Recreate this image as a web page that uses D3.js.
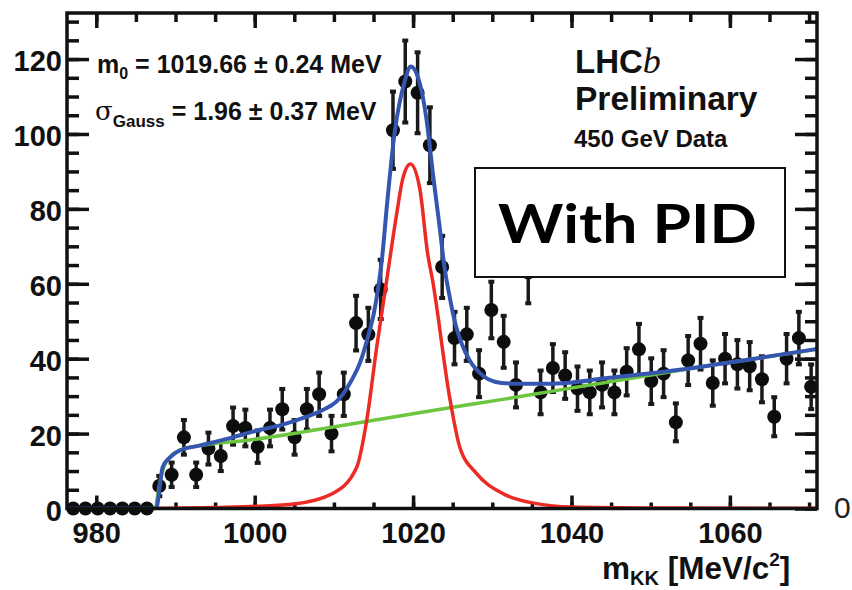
<!DOCTYPE html>
<html>
<head>
<meta charset="utf-8">
<script src="https://cdn.jsdelivr.net/npm/d3@7/dist/d3.min.js"></script>
<style>
  body { margin: 0; background: #fff; }
  svg { display: block; }
  .tick text { font-family: "Liberation Sans", Arial, sans-serif; font-weight: bold; }
</style>
</head>
<body>
<div id="chart"></div>
<script>
// bin centres (MeV/c^2) and entries
var massBins = [977.08, 978.63, 980.18, 981.74, 983.29, 984.85, 986.40, 987.95, 989.51, 991.06,
  992.61, 994.16, 995.72, 997.27, 998.82, 1000.38, 1001.93, 1003.48, 1005.04, 1006.59,
  1008.14, 1009.70, 1011.25, 1012.80, 1014.35, 1015.91, 1017.46, 1019.01, 1020.57, 1022.12,
  1023.67, 1025.23, 1026.78, 1028.33, 1029.88, 1031.44, 1032.99, 1034.54, 1036.10, 1037.65,
  1039.20, 1040.76, 1042.31, 1043.86, 1045.42, 1046.97, 1048.52, 1050.07, 1051.63, 1053.18,
  1054.73, 1056.29, 1057.84, 1059.39, 1060.95, 1062.50, 1064.05, 1065.60, 1067.16, 1068.71,
  1070.26];
var counts = [0, 0, 0, 0, 0, 0, 0, 6, 9, 19,
  9, 16, 14, 22, 21.5, 16.5, 21.5, 26.5, 19, 26.5,
  30.5, 20, 30.5, 49.5, 46.5, 58.5, 101, 114, 111, 97,
  64.5, 45.5, 46.5, 36, 53, 44.5, 33, 63, 31, 37.5,
  35.5, 32, 31, 33, 31, 36.5, 42.5, 34, 36, 23,
  39.5, 44, 33.5, 40, 38.5, 38, 34.5, 24.5, 40, 45.5,
  32.5];

// fit curves
var totalMass = [976.3, 987.37, 987.63, 988.01, 988.38, 989.27, 990.53, 993.06, 997.22, 1000.25,
  1003.54, 1006.57, 1008.59, 1010.35, 1011.24, 1012.25, 1013.26, 1014.27, 1015.03, 1015.53,
  1016.04, 1016.79, 1017.68, 1018.94, 1019.7, 1020.83, 1021.72, 1022.47, 1023.36, 1023.99,
  1024.62, 1025.25, 1026.14, 1027.15, 1028.79, 1030.93, 1033.46, 1036.87, 1039.77, 1043.94,
  1048.61, 1056.19, 1062.5, 1071];
var totalFit = [0, 0, 0.3, 6, 11, 13.6, 15.5, 16.8, 19, 20.8,
  22.4, 24.5, 26.3, 28.6, 30.8, 34.3, 38.7, 45.6, 52, 58,
  66, 83, 100.5, 114, 118, 113.6, 103.5, 90, 75, 64,
  56.5, 50, 44, 39.5, 35.5, 33.6, 33.3, 33.3, 33.6, 34.7,
  35.8, 37.8, 39.8, 42.6];
var signalMass = [987.37, 995, 1000.25, 1005, 1009.85, 1012.88, 1014.14, 1015.4, 1016.67, 1017.93,
  1018.69, 1019.66, 1020.83, 1021.84, 1022.47, 1024.62, 1025.88, 1028.03, 1031.31, 1035.61,
  1040.03, 1050, 1071];
var signalFit = [0, 0.3, 0.6, 1.2, 4, 11, 23.5, 43, 61, 78.7,
  88, 92, 85.6, 68, 60.8, 29.6, 16.5, 9.3, 4, 1.3,
  0.4, 0.15, 0.05];
var bkgMass = [987.5, 987.95, 988.5, 989.4, 990.53, 993.06, 999.37, 1005.68, 1012.0, 1018.31,
  1024.62, 1030.93, 1037.25, 1043.56, 1049.87, 1056.19, 1062.5, 1071];
var bkgFit = [0, 6, 11, 14, 15.6, 16.8, 18.3, 20.3, 22.5, 24.7,
  26.9, 29, 31.2, 33.4, 35.6, 37.8, 39.8, 42.5];

var xTicks = [980, 1000, 1020, 1040, 1060];
var yTicks = [0, 20, 40, 60, 80, 100, 120];

var margin = {top: 13, right: 35, bottom: 81.5, left: 67};
var width = 852 - margin.left - margin.right;
var height = 590 - margin.top - margin.bottom;

var x = d3.scaleLinear().domain([976.3, 1071]).range([0, width]);
var y = d3.scaleLinear().domain([0, 132.3]).range([height, 0]);

var root = d3.select('#chart').append('svg')
    .attr('width', 852)
    .attr('height', 590);
root.append('rect').attr('width', 852).attr('height', 590).attr('fill', '#fff');

var svg = root.append('g')
    .attr('transform', 'translate(' + margin.left + ',' + margin.top + ')');

svg.append('clipPath').attr('id', 'plot-clip')
  .append('rect').attr('width', width).attr('height', height);

var xMinor = d3.range(980, 1071, 5);
var yMinor = d3.range(0, 132, 5);

function tickStyle(g) {
  g.select('.domain').remove();
  g.selectAll('.tick line').attr('stroke', '#111').attr('stroke-width', 3.5);
}

// minor ticks, all four sides
svg.append('g').attr('transform', 'translate(0,' + height + ')')
  .call(d3.axisBottom(x).tickValues(xMinor).tickSize(-6).tickFormat(''))
  .call(tickStyle);
svg.append('g')
  .call(d3.axisTop(x).tickValues(xMinor).tickSize(-9).tickFormat(''))
  .call(tickStyle);
svg.append('g')
  .call(d3.axisLeft(y).tickValues(yMinor).tickSize(-12).tickFormat(''))
  .call(tickStyle);
svg.append('g').attr('transform', 'translate(' + width + ',0)')
  .call(d3.axisRight(y).tickValues(yMinor).tickSize(-12).tickFormat(''))
  .call(tickStyle);

// major ticks
svg.append('g')
  .attr('transform', 'translate(0,' + height + ')')
  .call(d3.axisBottom(x).tickValues(xTicks).tickSize(-13).tickPadding(14).tickFormat(d3.format('d')))
  .call(tickStyle)
  .selectAll('text')
  .attr('fill', '#111')
  .style('font-size', '29px');
svg.append('g')
  .call(d3.axisTop(x).tickValues(xTicks).tickSize(-15).tickFormat(''))
  .call(tickStyle);
svg.append('g')
  .call(d3.axisLeft(y).tickValues(yTicks).tickSize(-22).tickPadding(5).tickFormat(d3.format('d')))
  .call(tickStyle)
  .selectAll('text')
  .attr('fill', '#111')
  .attr('dy', '0.4em')
  .style('font-size', '29px');
svg.append('g').attr('transform', 'translate(' + width + ',0)')
  .call(d3.axisRight(y).tickValues(yTicks).tickSize(-22).tickFormat(''))
  .call(tickStyle);

// data points with error bars
var points = massBins.map(function (m, i) { return {m: m, n: counts[i]}; });
var bars = points.filter(function (d) { return d.n > 0; });

var errs = svg.append('g').selectAll('g')
    .data(bars)
    .enter().append('g')
    .attr('transform', function (d) { return 'translate(' + x(d.m) + ',0)'; });

errs.append('line')
  .attr('y1', function (d) { return y(d.n - Math.sqrt(d.n)) + 2; })
  .attr('y2', function (d) { return y(d.n + Math.sqrt(d.n)) - 2; })
  .attr('stroke', '#1a1a1a')
  .attr('stroke-width', 3.5);

// small end caps
errs.append('rect')
  .attr('x', -3).attr('width', 6).attr('height', 4)
  .attr('y', function (d) { return y(d.n + Math.sqrt(d.n)) - 3; })
  .attr('fill', '#1a1a1a');
errs.append('rect')
  .attr('x', -3).attr('width', 6).attr('height', 4)
  .attr('y', function (d) { return y(d.n - Math.sqrt(d.n)) - 1; })
  .attr('fill', '#1a1a1a');

svg.append('g').selectAll('circle')
  .data(points)
  .enter().append('circle')
  .attr('cx', function (d) { return x(d.m); })
  .attr('cy', function (d) { return y(d.n); })
  .attr('r', 7)
  .attr('fill', '#0d0d0d');

// fit curves
var line = d3.line()
    .curve(d3.curveMonotoneX)
    .x(function (d) { return x(d[0]); })
    .y(function (d) { return y(d[1]); });

function zip(a, b) { return a.map(function (v, i) { return [v, b[i]]; }); }

var curves = svg.append('g').attr('clip-path', 'url(#plot-clip)');
curves.append('path')
  .attr('d', line(zip(bkgMass, bkgFit)))
  .attr('fill', 'none').attr('stroke', '#6cc63f').attr('stroke-width', 3.5);
curves.append('path')
  .attr('d', line(zip(signalMass, signalFit)))
  .attr('fill', 'none').attr('stroke', '#ee2a24').attr('stroke-width', 3.5);
curves.append('path')
  .attr('d', line(zip(totalMass, totalFit)))
  .attr('fill', 'none').attr('stroke', '#3556b0').attr('stroke-width', 4);

// frame
svg.append('rect')
  .attr('width', width).attr('height', height)
  .attr('fill', 'none').attr('stroke', '#111').attr('stroke-width', 3.5);

// fit results
var font = '"Liberation Sans", Arial, sans-serif';
var t1 = root.append('text')
    .attr('x', 97).attr('y', 73)
    .style('font-family', font).style('font-weight', 'bold').style('font-size', '25px')
    .attr('fill', '#111');
t1.append('tspan').text('m');
t1.append('tspan').attr('dy', 6).style('font-size', '16px').text('0');
t1.append('tspan').attr('dy', -6).text(' = 1019.66 \u00b1 0.24 MeV');

var t2 = root.append('text')
    .attr('x', 95).attr('y', 120)
    .style('font-family', font).style('font-weight', 'bold').style('font-size', '25px')
    .attr('fill', '#111');
t2.append('tspan').style('font-family', '"DejaVu Serif", serif').style('font-weight', 'normal')
  .style('font-size', '26px').text('\u03c3');
t2.append('tspan').attr('dy', 7).style('font-size', '17px').text('Gauss');
t2.append('tspan').attr('dy', -7).text(' = 1.96 \u00b1 0.37 MeV');

// LHCb label
var t3 = root.append('text')
    .attr('x', 575).attr('y', 73)
    .style('font-family', font).style('font-weight', 'bold').style('font-size', '33px')
    .attr('fill', '#111');
t3.append('tspan').text('LHC');
t3.append('tspan').style('font-family', '"Liberation Serif", serif').style('font-style', 'italic')
  .style('font-weight', 'normal').style('font-size', '36px').text('b');

root.append('text')
  .attr('x', 575).attr('y', 110)
  .style('font-family', font).style('font-weight', 'bold').style('font-size', '33.5px')
  .attr('fill', '#111')
  .text('Preliminary');

root.append('text')
  .attr('x', 574).attr('y', 147)
  .style('font-family', font).style('font-weight', 'bold').style('font-size', '24px')
  .attr('fill', '#111')
  .text('450 GeV Data');

// "With PID" box
root.append('rect')
  .attr('x', 475).attr('y', 168).attr('width', 310).attr('height', 109)
  .attr('fill', '#fff').attr('stroke', '#111').attr('stroke-width', 2);
root.append('text')
  .attr('x', 498).attr('y', 243)
  .attr('textLength', 259).attr('lengthAdjust', 'spacingAndGlyphs')
  .style('font-family', 'Lato, "Open Sans", sans-serif').style('font-weight', 'bold').style('font-size', '53px')
  .attr('fill', '#000')
  .text('With PID');

// x axis title
var t4 = root.append('text')
    .attr('x', 602).attr('y', 579)
    .style('font-family', font).style('font-weight', 'bold').style('font-size', '31.5px')
    .attr('fill', '#111');
t4.append('tspan').text('m');
t4.append('tspan').attr('dy', 6).style('font-size', '20px').text('KK');
t4.append('tspan').attr('dy', -6).text(' [MeV/c');
t4.append('tspan').attr('dy', -13).style('font-size', '19px').text('2');
t4.append('tspan').attr('dy', 13).text(']');

// stray digit at the right edge of the original picture
root.append('text')
  .attr('x', 834).attr('y', 518)
  .style('font-family', font).style('font-size', '30px')
  .attr('fill', '#222')
  .text('0');
</script>
</body>
</html>
